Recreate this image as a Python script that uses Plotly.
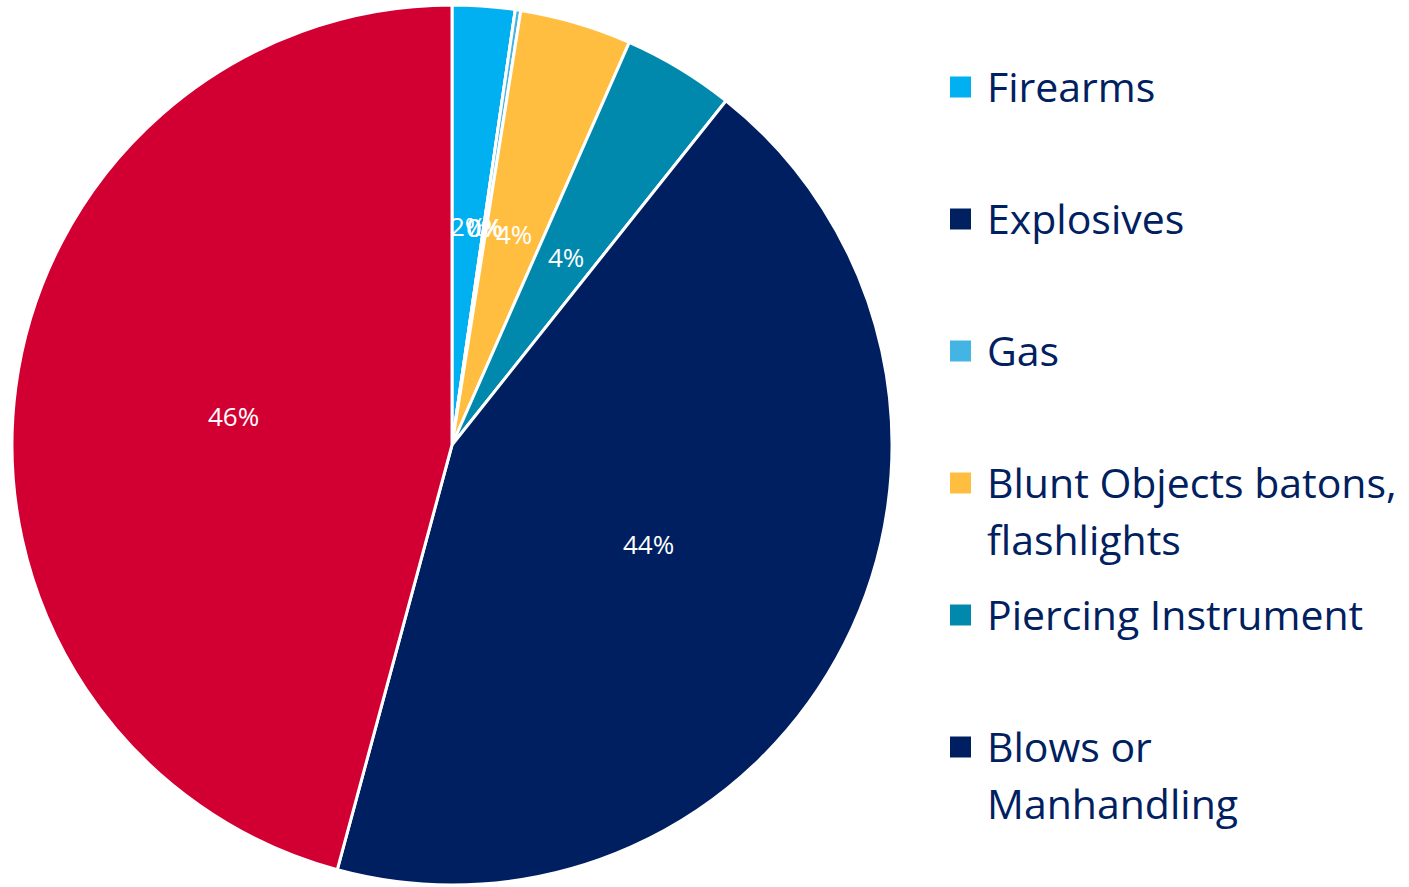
import plotly.graph_objects as go
import math

# Share of incidents by weapon type (percent)
categories = ["Firearms", "Explosives", "Gas", "Blunt Objects batons,\nflashlights",
              "Piercing Instrument", "Blows or\nManhandling", "Other"]
values = [2.3, 0.0, 0.2, 4.1, 4.1, 43.5, 45.8]
colors = ["#00B0F0", "#002060", "#44B4E4", "#FFBE40", "#0088AD", "#001F60", "#D20032"]
legend_count = 6  # the last category is not listed in the legend

W, H = 1409, 887
cx, cy, R = 452, 445, 440

fig = go.Figure()
fig.add_trace(go.Pie(
    labels=[c.replace("\n", " ") for c in categories],
    values=values,
    sort=False,
    direction="clockwise",
    rotation=0,
    marker=dict(colors=colors, line=dict(color="white", width=3)),
    textinfo="none",
    showlegend=False,
    domain=dict(x=[(cx - R) / W, (cx + R) / W], y=[1 - (cy + R) / H, 1 - (cy - R) / H]),
))

annotations = []
shapes = []

# Percentage labels at half radius, on each slice's mid-angle
total = sum(values)
cum = 0.0
for v in values:
    mid = (cum + v / 2) / total * 2 * math.pi
    cum += v
    px = cx + 0.5 * R * math.sin(mid)
    py = cy - 0.5 * R * math.cos(mid)
    annotations.append(dict(
        x=px / W, y=1 - py / H, xref="paper", yref="paper",
        text=f"{round(v / total * 100)}%", showarrow=False,
        xanchor="center", yanchor="middle",
        font=dict(family="Open Sans", size=26, color="white"),
    ))

# Legend drawn as squares and text lines
leg_top, leg_step, line_step = 87, 132, 57
for i in range(legend_count):
    yc = leg_top + i * leg_step
    shapes.append(dict(
        type="rect", xref="paper", yref="paper",
        x0=950 / W, x1=971 / W, y0=1 - (yc - 10.5) / H, y1=1 - (yc + 10.5) / H,
        fillcolor=colors[i], line=dict(width=0),
    ))
    for j, line in enumerate(categories[i].split("\n")):
        annotations.append(dict(
            x=985 / W, y=1 - (yc + j * line_step - 1) / H, xref="paper", yref="paper",
            text=line, showarrow=False, xanchor="left", yanchor="middle",
            font=dict(family="Open Sans", size=41, color="#002060"),
        ))

fig.update_layout(
    width=W, height=H,
    margin=dict(l=0, r=0, t=0, b=0),
    paper_bgcolor="white", plot_bgcolor="white",
    annotations=annotations, shapes=shapes,
)

fig.write_html("out.html")
